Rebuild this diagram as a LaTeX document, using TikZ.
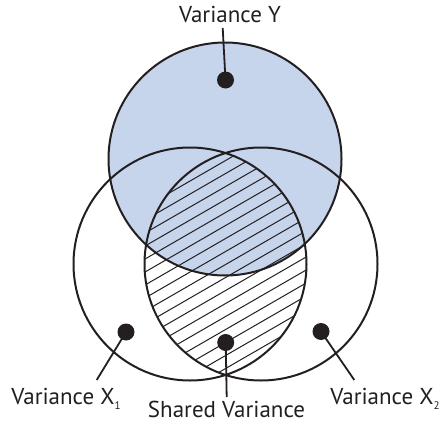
\documentclass[tikz,border=0pt]{standalone}
\usepackage{fontspec}
\setmainfont{PT Sans}
\definecolor{ink}{HTML}{231F20}
\definecolor{yblue}{HTML}{C6D4EC}
\begin{document}
\begin{tikzpicture}[x=1pt,y=-1pt,
  ring/.style={draw=ink,line width=2pt},
  hatchline/.style={draw=ink,line width=1pt},
  leader/.style={draw=ink,line width=1.8pt},
  dot/.style={circle,fill=ink,inner sep=0pt,minimum size=17pt},
  lbl/.style={inner sep=0pt,anchor=base,text=ink,font=\fontsize{23}{26}\selectfont}]
\useasboundingbox (0,0) rectangle (442,423);
% filled circle Y
\fill[yblue] (225,159) circle (116.5);
% hatching in the overlap of X1 and X2
\begin{scope}
  \clip (190,264) circle (116.5);
  \clip (261,264) circle (116.5);
  \foreach \k in {-8,...,21}{
    \pgfmathsetmacro\ya{246+13*\k}
    \pgfmathsetmacro\yb{101.7+13*\k}
    \draw[hatchline] (100,\ya) -- (350,\yb);
  }
\end{scope}
% outlines
\draw[ring] (225,159) circle (116.5);
\draw[ring] (190,264) circle (116.5);
\draw[ring] (261,264) circle (116.5);
% dots
\node[dot] (dY) at (225.5,80) {};
\node[dot] (dX1) at (126,332) {};
\node[dot] (dS) at (225.7,342.5) {};
\node[dot] (dX2) at (321,331.5) {};
% leader ends
\coordinate (eY) at (222.7,28);
\coordinate (eX1) at (96.7,380);
\coordinate (eS) at (226.7,397);
\coordinate (eX2) at (354.3,380);
\draw[leader] (dY.center) -- (eY);
\draw[leader] (dX1.center) -- (eX1);
\draw[leader] (dS.center) -- (eS);
\draw[leader] (dX2.center) -- (eX2);
% labels
\node[lbl] (lY) at (230,23) {Variance Y};
\node[lbl] (lX1) at (66,404) {Variance X\raisebox{-5pt}{\fontsize{11}{11}\selectfont 1}};
\node[lbl] (lS) at (226.5,417) {Shared Variance};
\node[lbl] (lX2) at (385,404) {Variance X\raisebox{-5pt}{\fontsize{11}{11}\selectfont 2}};
\end{tikzpicture}
\end{document}
